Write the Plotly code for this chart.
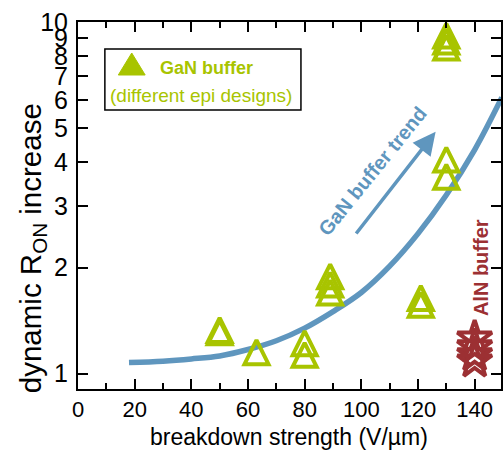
import plotly.graph_objects as go

# ---- data ----
gan_x = [50, 50, 63, 80, 80, 89, 89, 89, 121, 121, 130, 130, 130, 130, 130]
gan_y = [1.33, 1.31, 1.15, 1.22, 1.13, 1.89, 1.79, 1.70, 1.64, 1.57, 9.15, 8.8, 8.46, 4.06, 3.63]

aln_x = [140, 140, 140, 140]
aln_y = [1.26, 1.19, 1.13, 1.085]

trend_x = [18, 30, 40, 50, 60, 70, 80, 90, 100, 110, 120, 130, 140, 149.6]
trend_y = [1.074, 1.084, 1.100, 1.122, 1.17, 1.239, 1.346, 1.50, 1.70, 2.02, 2.50, 3.22, 4.33, 6.10]

x_ticks = [0, 20, 40, 60, 80, 100, 120, 140]
y_ticks = [1, 2, 3, 4, 5, 6, 7, 8, 9, 10]

GREEN = "#a8c400"
RED = "#9c3033"
BLUE = "#5f96be"
FONT = "Liberation Sans, Arial, sans-serif"

W, H = 504, 452
L, R, T, B = 78, 1, 22, 63
PW, PH = W - L - R, H - T - B


def px(xp):
    return (xp - L) / PW


def py(yp):
    return (H - B - yp) / PH


fig = go.Figure()

fig.add_trace(go.Scatter(
    x=trend_x, y=trend_y, mode="lines",
    line=dict(color=BLUE, width=5.5, shape="spline", smoothing=1.0),
    hoverinfo="skip", showlegend=False,
))

tri = 24
fig.add_trace(go.Scatter(
    x=gan_x, y=gan_y, mode="markers", cliponaxis=False,
    marker=dict(symbol="arrow-down-open", angle=180, standoff=tri / 2, size=tri,
                color=GREEN, line=dict(color=GREEN, width=4)),
    showlegend=False,
))

fig.add_trace(go.Scatter(
    x=aln_x, y=aln_y, mode="markers", cliponaxis=False,
    marker=dict(symbol="star-open", size=26,
                color=RED, line=dict(color=RED, width=4)),
    showlegend=False,
))

axis_common = dict(
    showline=True, linecolor="black", linewidth=2, mirror="ticks",
    ticks="inside", ticklen=10, tickwidth=1.5, tickcolor="black",
    showgrid=False, zeroline=False,
)

fig.update_xaxes(
    range=[0, 149.3], tickvals=x_ticks, ticktext=[str(v) for v in x_ticks],
    tickfont=dict(family=FONT, size=22, color="black"),
    minor=dict(ticks="inside", ticklen=6, tickwidth=1.5, tickcolor="black", dtick=10, tick0=0),
    **axis_common,
)
fig.update_yaxes(
    type="log", range=[-0.0441, 1.0], tickvals=y_ticks, ticktext=[str(v) for v in y_ticks],
    tickfont=dict(family=FONT, size=25, color="black"), ticklabelstandoff=3,
    **axis_common,
)

# legend box
fig.add_shape(type="rect", xref="paper", yref="paper",
              x0=px(105), x1=px(302), y0=py(110), y1=py(49),
              line=dict(color="black", width=1.5), fillcolor="white", layer="above")
fig.add_shape(type="path", xref="paper", yref="paper",
              path=f"M {px(118.5)} {py(75)} L {px(145.5)} {py(75)} L {px(132)} {py(53)} Z",
              line=dict(color=GREEN, width=1), fillcolor=GREEN, layer="above")

ann = [
    dict(text="<b>GaN buffer</b>", x=px(207), y=py(68), font=dict(size=18, color=GREEN)),
    dict(text="(different epi designs)", x=px(202), y=py(95), font=dict(size=19, color=GREEN)),
    dict(text="<b>GaN buffer trend</b>", x=px(374), y=py(171), textangle=-51,
         font=dict(size=20, color=BLUE)),
    dict(text="<b>AlN buffer</b>", x=px(483), y=py(268), textangle=-90,
         font=dict(size=20, color=RED)),
    dict(text="breakdown strength (V/µm)", x=px(290), y=py(437),
         font=dict(size=23, color="black")),
    dict(text="dynamic R<sub>ON</sub> increase", x=px(32), y=py(248), textangle=-90,
         font=dict(size=29.5, color="black")),
]
for a in ann:
    a["font"]["family"] = FONT
    fig.add_annotation(xref="paper", yref="paper", xanchor="center", yanchor="middle",
                       showarrow=False, **a)

fig.add_annotation(xref="paper", yref="paper", x=px(437.3), y=py(131.7),
                   ax=356.7 - 437.3, ay=235 - 131.7, axref="pixel", ayref="pixel",
                   text="", showarrow=True, arrowhead=2, arrowsize=1.3,
                   arrowwidth=3.5, arrowcolor=BLUE)

fig.update_layout(
    width=W, height=H, margin=dict(l=L, r=R, t=T, b=B),
    paper_bgcolor="white", plot_bgcolor="white", showlegend=False,
)

fig.write_html("out.html", config={"displayModeBar": False},
               post_script="document.body.style.margin='0';document.body.style.overflow='hidden';")
